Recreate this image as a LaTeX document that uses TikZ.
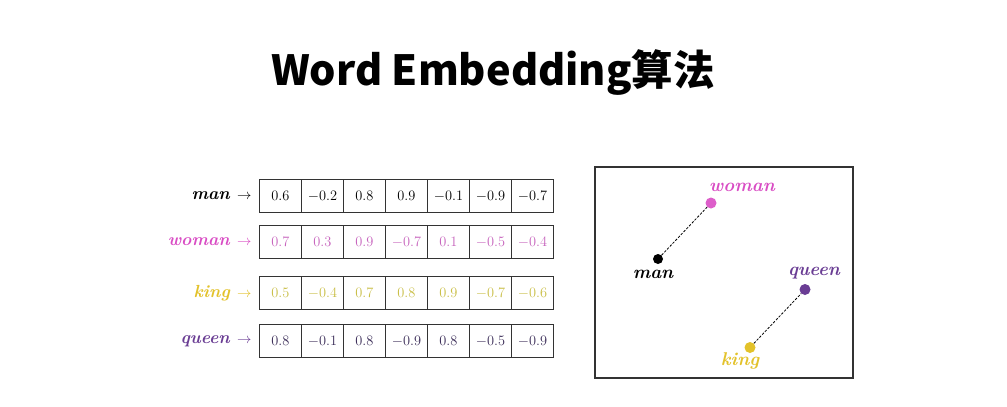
\documentclass[tikz,border=0pt]{standalone}
\usepackage{fontspec}
\newfontfamily\cjk{Noto Sans CJK SC}
\definecolor{cwoman}{HTML}{D94CC4}
\definecolor{cking}{HTML}{E3C22A}
\definecolor{cqueen}{HTML}{6A3D94}
\definecolor{nwoman}{HTML}{C763BD}
\definecolor{nking}{HTML}{C9BE45}
\definecolor{nqueen}{HTML}{3B2D58}
\definecolor{frame}{HTML}{333333}
\begin{document}
\begin{tikzpicture}[x=1pt,y=-1pt,
  cell/.style={draw=frame,line width=0.9pt,minimum width=42pt,minimum height=33pt,inner sep=0pt,font=\fontsize{15}{17}\selectfont,anchor=west},
  rowlab/.style={anchor=east,font=\fontsize{17.5}{19}\selectfont\bfseries\itshape},
  dot/.style={circle,fill,inner sep=0pt,minimum size=11pt},
  ptlab/.style={font=\fontsize{18.5}{20}\selectfont\bfseries\itshape},
  link/.style={dashed,dash pattern=on 2.5pt off 1.5pt,line width=0.8pt,black}]
\useasboundingbox (0,0) rectangle (1007,407);
\fill[white] (0,0) rectangle (1007,407);
\node[font=\cjk\bfseries\fontsize{41.5}{44}\selectfont] (title) at (493,73) {Word Embedding算法};
% table
\foreach \row/\yy/\col/\ncol/\vals in {
  man/196/black/black/{0.6,-0.2,0.8,0.9,-0.1,-0.9,-0.7},
  woman/242/cwoman/nwoman/{0.7,0.3,0.9,-0.7,0.1,-0.5,-0.4},
  king/293/cking/nking/{0.5,-0.4,0.7,0.8,0.9,-0.7,-0.6},
  queen/341/cqueen/nqueen/{0.8,-0.1,0.8,-0.9,0.8,-0.5,-0.9}}{
  \node[rowlab,text=\col] (lab-\row) at (255,\yy) {\row\ \normalfont\fontsize{15}{17}\selectfont$\rightarrow$};
  \foreach \v [count=\i] in \vals {
    \node[cell,text=\ncol] (c-\row-\i) at ({259+42*(\i-1)},\yy) {$\v$};
  }
}
% plot
\node[draw=frame,line width=1.1pt,minimum width=258pt,minimum height=211pt,inner sep=0pt] (plot) at (724,272.5) {};
\node[dot,black,minimum size=10pt] (pman) at (658,259) {};
\node[dot,fill=cwoman!90!white] (pwoman) at (711,203) {};
\node[dot,fill=cqueen] (pqueen) at (805,289.5) {};
\node[dot,fill=cking] (pking) at (750,347.5) {};
\draw[link] (pman) -- (pwoman);
\draw[link] (pking) -- (pqueen);
\node[ptlab,text=black] (lman) at (653,274) {man};
\node[ptlab,text=cwoman] (lwoman) at (742,187) {woman};
\node[ptlab,text=cqueen] (lqueen) at (814,273) {queen};
\node[ptlab,text=cking] (lking) at (740,361) {king};
\end{tikzpicture}
\end{document}
